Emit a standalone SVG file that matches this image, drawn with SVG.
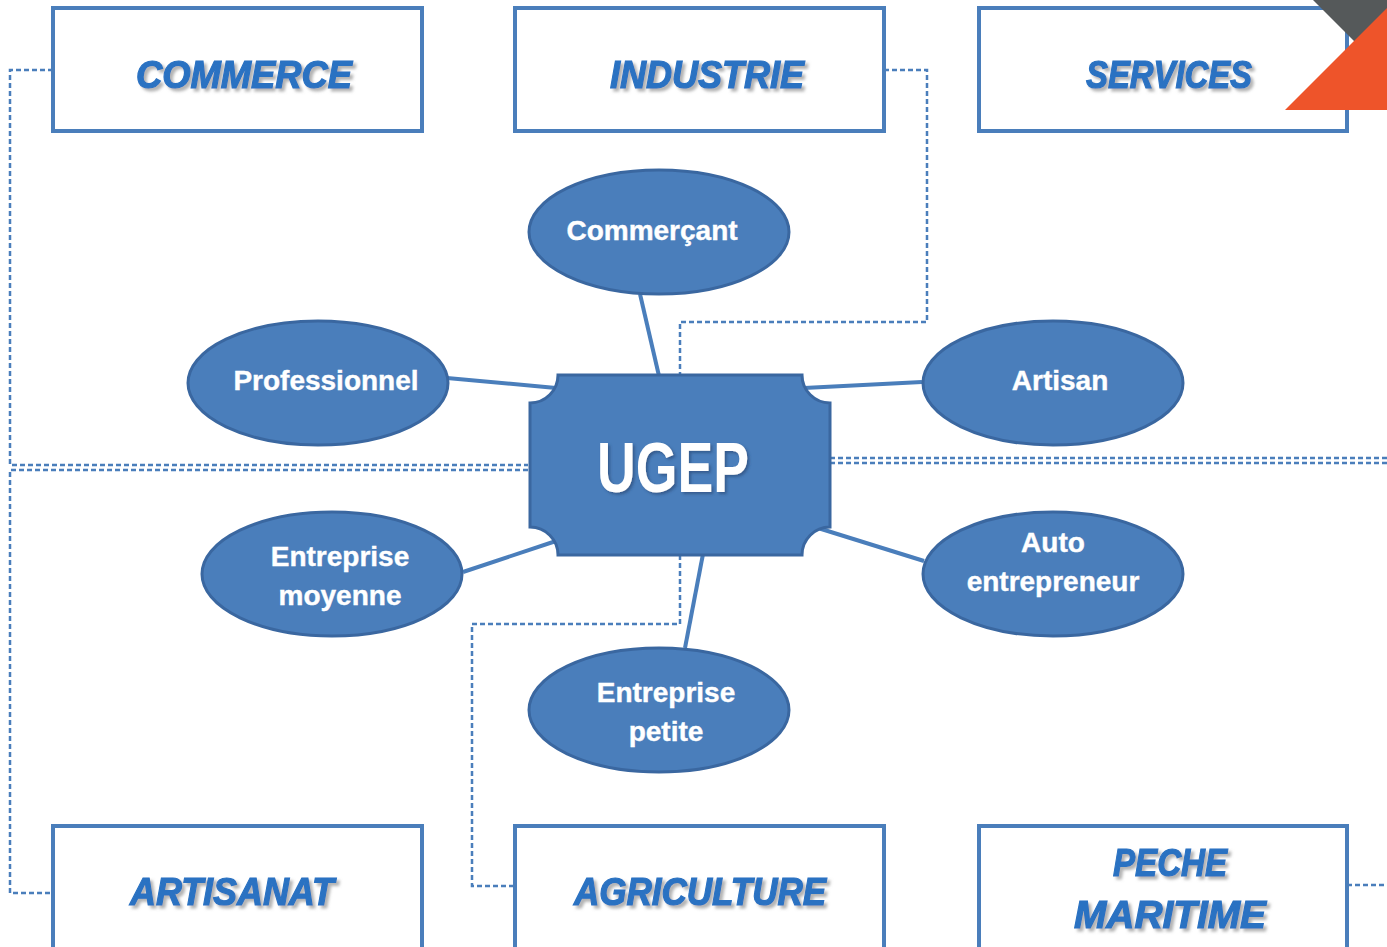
<svg xmlns="http://www.w3.org/2000/svg" width="1387" height="947" viewBox="0 0 1387 947">
<defs>
<filter id="ts" x="-10%" y="-20%" width="130%" height="150%">
<feGaussianBlur in="SourceAlpha" stdDeviation="1.5"/>
<feOffset dx="3" dy="3" result="b"/>
<feFlood flood-color="#808080" flood-opacity="0.6"/>
<feComposite in2="b" operator="in"/>
<feMerge><feMergeNode/><feMergeNode in="SourceGraphic"/></feMerge>
</filter>
<filter id="us" x="-10%" y="-20%" width="130%" height="150%">
<feGaussianBlur in="SourceAlpha" stdDeviation="1.5"/>
<feOffset dx="2" dy="2" result="b"/>
<feFlood flood-color="#2a4a78" flood-opacity="0.7"/>
<feComposite in2="b" operator="in"/>
<feMerge><feMergeNode/><feMergeNode in="SourceGraphic"/></feMerge>
</filter>
</defs>
<style>
.box{fill:#fff;stroke:#4a7ebb;stroke-width:4}
.lbl{font-family:"Liberation Sans",Arial,sans-serif;font-weight:bold;font-style:italic;font-size:38px;fill:#2a72c2;stroke:#2a72c2;stroke-width:1.2;text-anchor:middle;filter:url(#ts)}
.ell{fill:#4a7ebb;stroke:#3a67a0;stroke-width:3}
.et{font-family:"Liberation Sans",Arial,sans-serif;font-weight:bold;font-size:28px;fill:#fff;stroke:#fff;stroke-width:0.4;text-anchor:middle}
.solid{stroke:#4a7ebb;stroke-width:4;fill:none}
.dash{stroke:#4a7ebb;stroke-width:2.5;fill:none;stroke-dasharray:5 3}
</style>
<rect width="1387" height="947" fill="#fff"/>
<g id="connectors">
<path class="dash" d="M53 70 H10 V465 H528"/>
<path class="dash" d="M528 470 H10 V893 H53"/>
<path class="dash" d="M884 70 H927 V322 H680 V375"/>
<path class="dash" d="M680 555 V624 H472 V886 H515"/>
<path class="dash" d="M830 458 H1387"/>
<path class="dash" d="M830 463 H1387"/>
<path class="dash" d="M1347 885 H1387"/>
<line class="solid" x1="640" y1="294" x2="659" y2="376"/>
<line class="solid" x1="447" y1="378" x2="556" y2="388"/>
<line class="solid" x1="922" y1="382" x2="804" y2="388"/>
<line class="solid" x1="463" y1="572" x2="556" y2="541"/>
<line class="solid" x1="924" y1="561" x2="818" y2="528"/>
<line class="solid" x1="685" y1="648" x2="703" y2="554"/>
</g>
<g id="commerce"><rect class="box" x="53" y="8" width="369" height="123"/><text class="lbl" x="244" y="88" textLength="216" lengthAdjust="spacingAndGlyphs">COMMERCE</text></g>
<g id="industrie"><rect class="box" x="515" y="8" width="369" height="123"/><text class="lbl" x="707" y="88" textLength="194" lengthAdjust="spacingAndGlyphs">INDUSTRIE</text></g>
<g id="services"><rect class="box" x="979" y="8" width="368" height="123"/><text class="lbl" x="1169" y="88" textLength="166" lengthAdjust="spacingAndGlyphs">SERVICES</text></g>
<g id="artisanat"><rect class="box" x="53" y="826" width="369" height="130"/><text class="lbl" x="232" y="905" textLength="204" lengthAdjust="spacingAndGlyphs">ARTISANAT</text></g>
<g id="agriculture"><rect class="box" x="515" y="826" width="369" height="130"/><text class="lbl" x="700" y="905" textLength="252" lengthAdjust="spacingAndGlyphs">AGRICULTURE</text></g>
<g id="peche"><rect class="box" x="979" y="826" width="368" height="130"/><text class="lbl" x="1170" y="876" textLength="114" lengthAdjust="spacingAndGlyphs">PECHE</text><text class="lbl" x="1170" y="928" textLength="192" lengthAdjust="spacingAndGlyphs">MARITIME</text></g>
<g id="commercant"><ellipse class="ell" cx="659" cy="232" rx="130" ry="62"/><text class="et" x="652" y="240">Commerçant</text></g>
<g id="professionnel"><ellipse class="ell" cx="318" cy="383" rx="130" ry="62"/><text class="et" x="326" y="390">Professionnel</text></g>
<g id="artisan"><ellipse class="ell" cx="1053" cy="383" rx="130" ry="62"/><text class="et" x="1060" y="390">Artisan</text></g>
<g id="entreprise-moyenne"><ellipse class="ell" cx="332" cy="574" rx="130" ry="62"/><text class="et" x="340" y="566">Entreprise</text><text class="et" x="340" y="605">moyenne</text></g>
<g id="auto-entrepreneur"><ellipse class="ell" cx="1053" cy="574" rx="130" ry="62"/><text class="et" x="1053" y="552">Auto</text><text class="et" x="1053" y="591">entrepreneur</text></g>
<g id="entreprise-petite"><ellipse class="ell" cx="659" cy="710" rx="130" ry="62"/><text class="et" x="666" y="702">Entreprise</text><text class="et" x="666" y="741">petite</text></g>
<g id="ugep">
<path d="M558 375 H802 A28 28 0 0 0 830 403 V527 A28 28 0 0 0 802 555 H558 A28 28 0 0 0 530 527 V403 A28 28 0 0 0 558 375 Z" fill="#4a7ebb" stroke="#3a67a0" stroke-width="3"/>
<text x="673" y="492" font-family="Liberation Sans,Arial,sans-serif" font-weight="bold" font-size="70" fill="#fff" text-anchor="middle" textLength="152" lengthAdjust="spacingAndGlyphs" filter="url(#us)">UGEP</text>
</g>
<g id="corner">
<polygon points="1313,0 1387,0 1387,74" fill="#55595a"/>
<polygon points="1285,110 1387,110 1387,8" fill="#ee542a"/>
</g>
</svg>
